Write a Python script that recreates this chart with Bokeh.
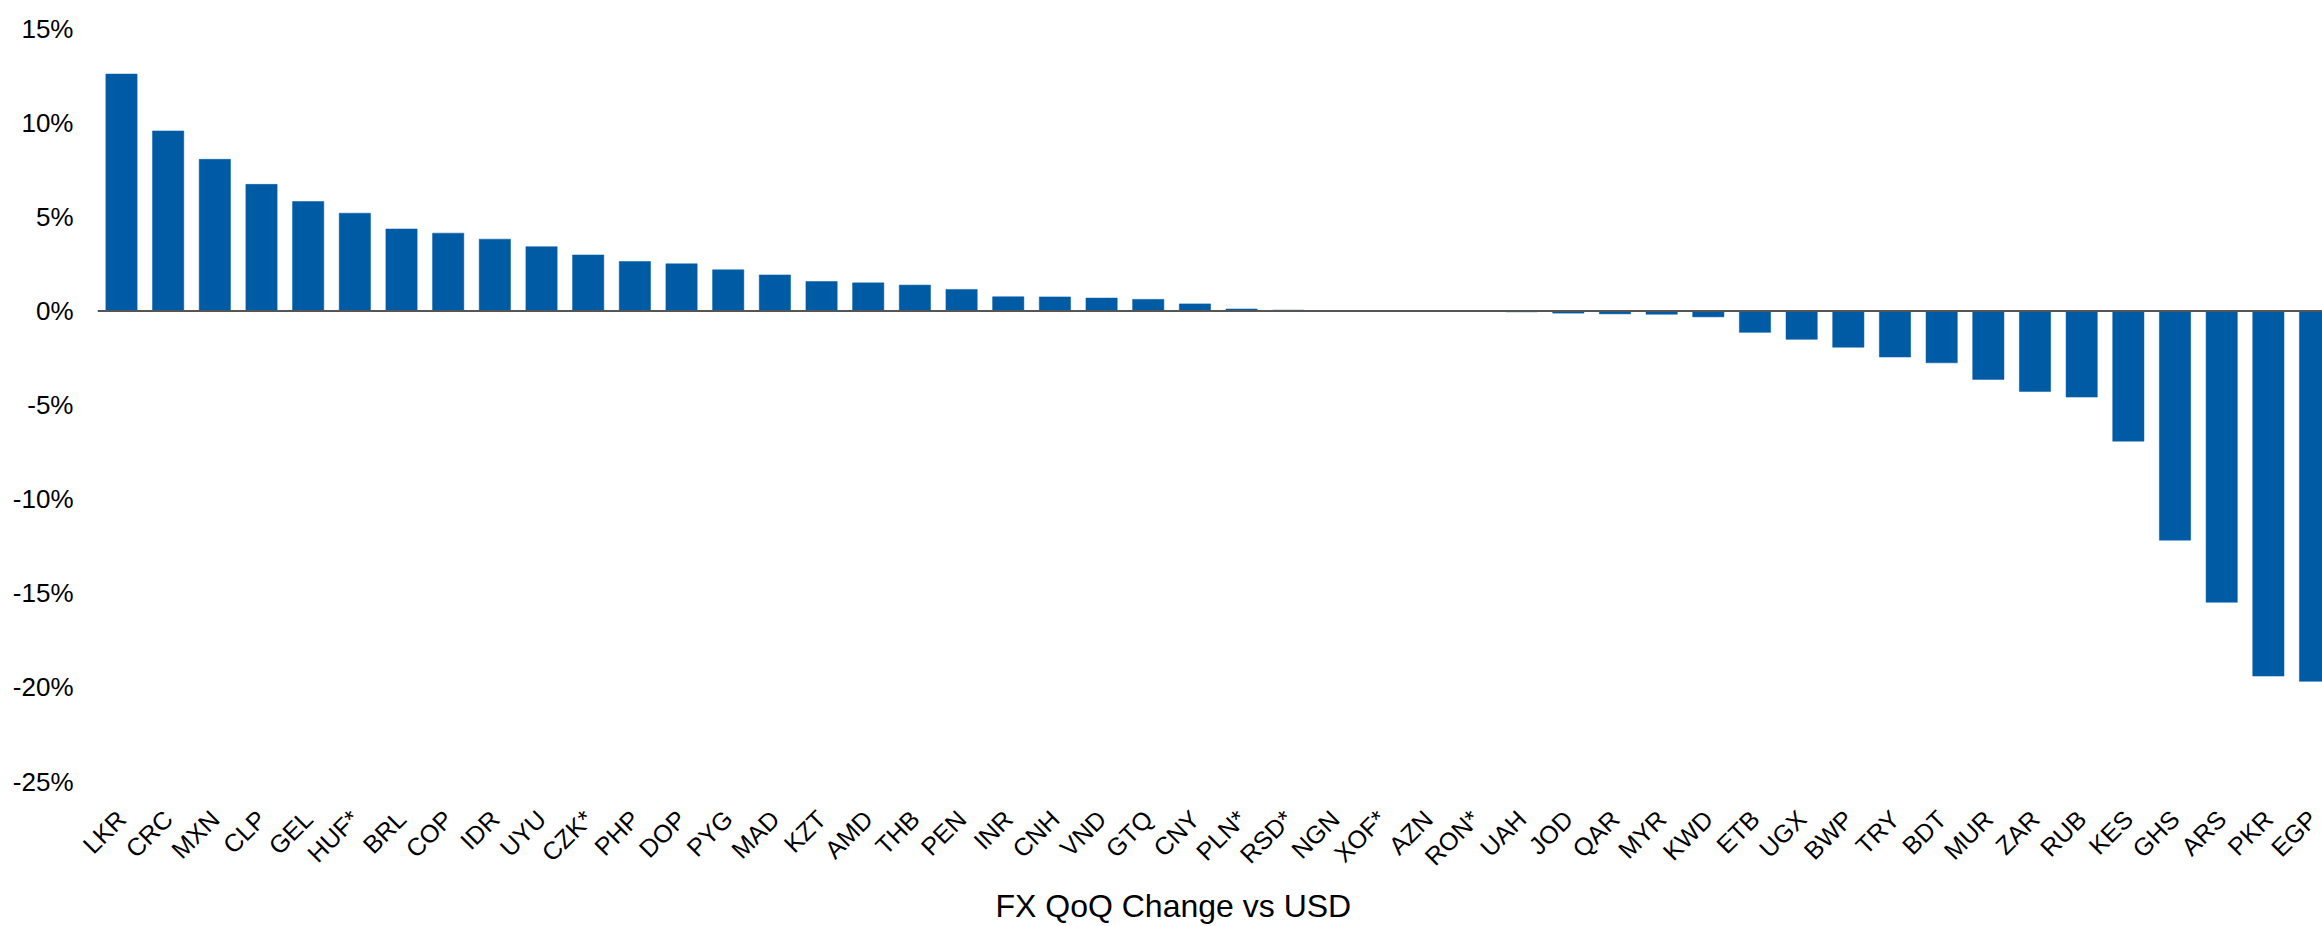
import math
from bokeh.plotting import figure
from bokeh.models import Range1d, FixedTicker, PrintfTickFormatter, Span, Title, ColumnDataSource
from bokeh.embed import file_html
from bokeh.resources import INLINE

currencies = ["LKR", "CRC", "MXN", "CLP", "GEL", "HUF*", "BRL", "COP", "IDR", "UYU",
              "CZK*", "PHP", "DOP", "PYG", "MAD", "KZT", "AMD", "THB", "PEN", "INR",
              "CNH", "VND", "GTQ", "CNY", "PLN*", "RSD*", "NGN", "XOF*", "AZN", "RON*",
              "UAH", "JOD", "QAR", "MYR", "KWD", "ETB", "UGX", "BWP", "TRY", "BDT",
              "MUR", "ZAR", "RUB", "KES", "GHS", "ARS", "PKR", "EGP"]
qoq_change_pct = [12.58, 9.56, 8.05, 6.72, 5.81, 5.19, 4.35, 4.13, 3.81, 3.41,
                  2.97, 2.62, 2.50, 2.18, 1.91, 1.56, 1.49, 1.37, 1.14, 0.75,
                  0.74, 0.68, 0.61, 0.37, 0.10, 0.04, 0.01, 0.00, -0.03, -0.03,
                  -0.05, -0.12, -0.16, -0.18, -0.32, -1.14, -1.51, -1.93, -2.45, -2.76,
                  -3.64, -4.28, -4.58, -6.92, -12.18, -15.48, -19.40, -19.68]
y_ticks = [-25, -20, -15, -10, -5, 0, 5, 10, 15]
x_title = "FX QoQ Change vs USD"

BLUE = "#005BA5"
FONT = "Liberation Sans"

positions = list(range(len(currencies)))
src = ColumnDataSource(dict(x=positions, top=qoq_change_pct, name=currencies))

p = figure(width=2322, height=926, output_backend="svg", toolbar_location=None,
           x_range=Range1d(-0.514, 47.16), y_range=Range1d(-25, 15),
           min_border_left=97, min_border_right=0, min_border_top=28, min_border_bottom=141)
p.outline_line_color = None
p.xgrid.grid_line_color = None
p.ygrid.grid_line_color = None
p.background_fill_color = "white"
p.border_fill_color = "white"

p.vbar(x="x", top="top", bottom=0, width=0.67, source=src, fill_color=BLUE, line_color=BLUE, line_width=0.5)

p.add_layout(Span(location=0, dimension="width", line_color="#555555", line_width=2))

# y axis
p.yaxis.ticker = FixedTicker(ticks=y_ticks)
p.yaxis.formatter = PrintfTickFormatter(format="%d%%")
p.yaxis.axis_line_color = None
p.yaxis.major_tick_line_color = None
p.yaxis.minor_tick_line_color = None
p.yaxis.major_tick_out = 0
p.yaxis.major_tick_in = 0
p.yaxis.major_label_standoff = 24
p.yaxis.major_label_text_font = FONT
p.yaxis.major_label_text_font_size = "26px"
p.yaxis.major_label_text_color = "black"

# x axis
p.xaxis.ticker = FixedTicker(ticks=positions)
p.xaxis.major_label_overrides = {i: c for i, c in zip(positions, currencies)}
p.xaxis.major_label_orientation = math.pi / 4
p.xaxis.axis_line_color = None
p.xaxis.major_tick_line_color = None
p.xaxis.minor_tick_line_color = None
p.xaxis.major_tick_out = 0
p.xaxis.major_tick_in = 0
p.xaxis.major_label_standoff = 33
p.xaxis.major_label_text_font = FONT
p.xaxis.major_label_text_font_size = "25px"
p.xaxis.major_label_text_color = "black"

title = Title(text=x_title, align="left", offset=898, standoff=5, text_font=FONT,
              text_font_size="32px", text_font_style="normal", text_color="black")
p.add_layout(title, "below")

open("out.html", "w").write(file_html(p, INLINE))
